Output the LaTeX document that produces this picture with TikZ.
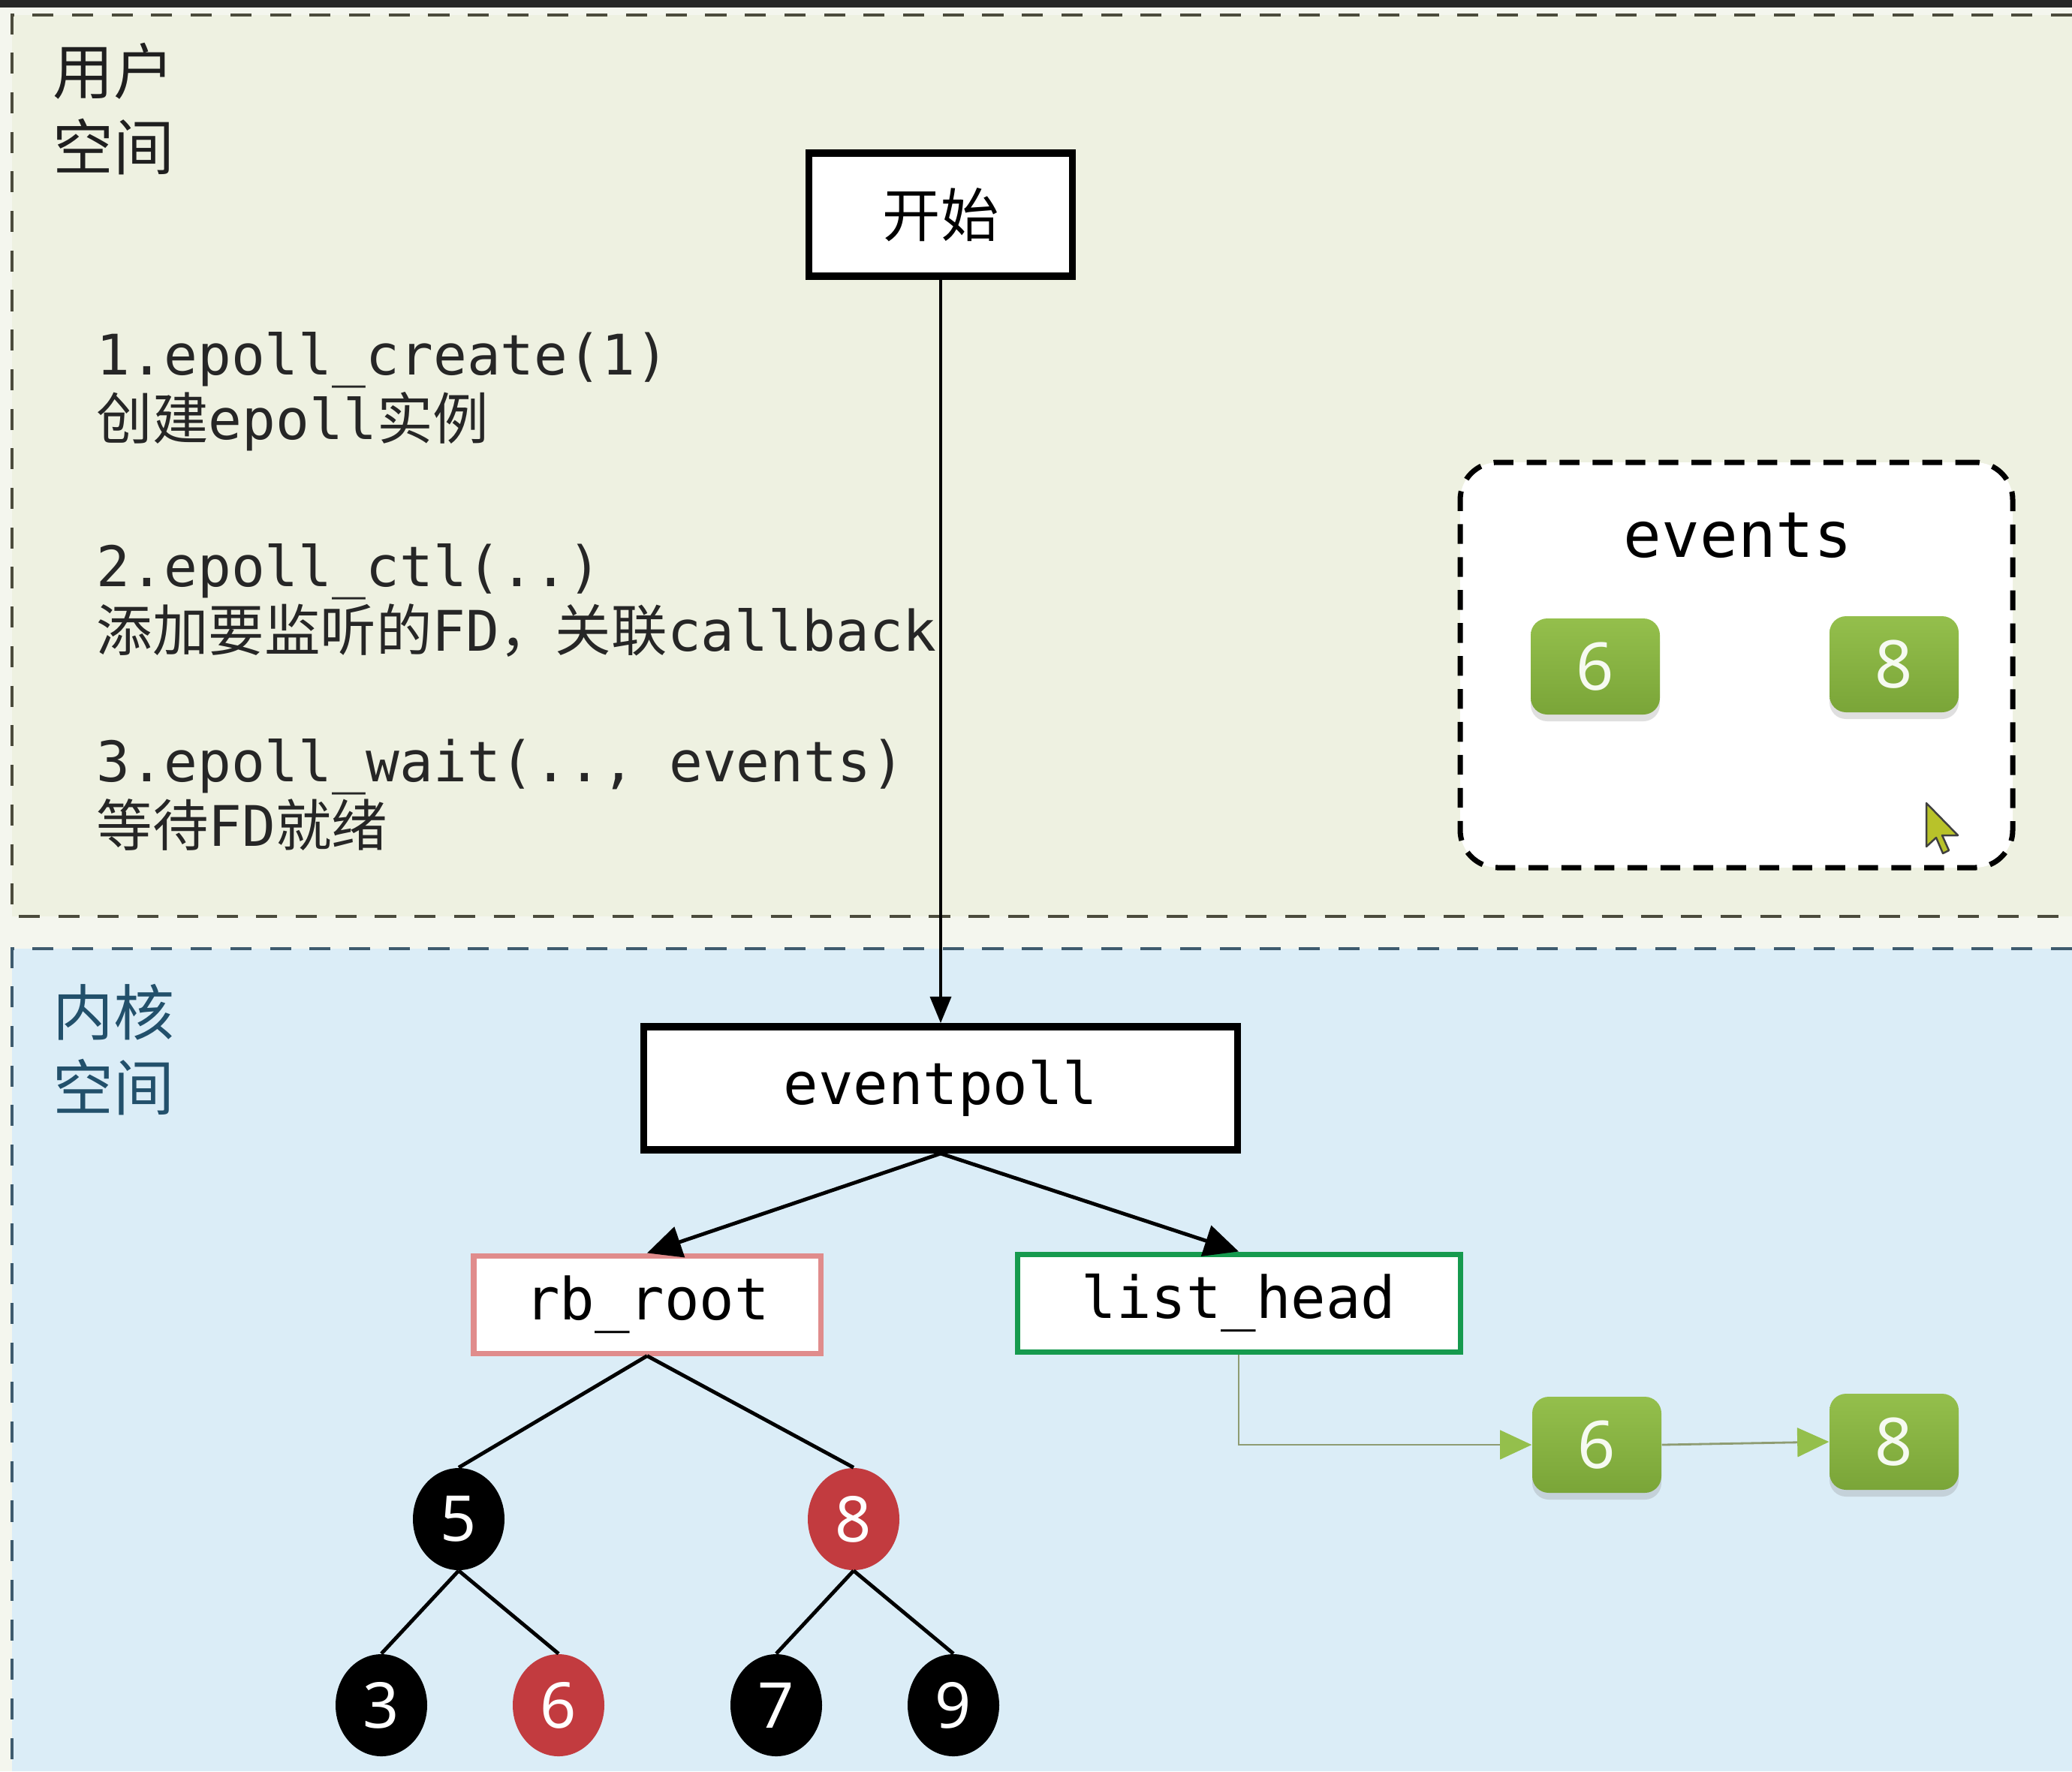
\documentclass[tikz,border=0pt]{standalone}
\usepackage{fontspec}
\setmainfont{DejaVu Sans Mono}
\newfontfamily\cjk{Noto Sans CJK SC}
\newfontfamily\numfont{Noto Sans}
\newcommand\us{\char"5F\relax}
\usetikzlibrary{positioning, arrows.meta, shapes.geometric, shadows, trees}
\definecolor{pagebg}{HTML}{F4F6EE}
\definecolor{userbg}{HTML}{EEF1E1}
\definecolor{kernbg}{HTML}{DBEDF7}
\definecolor{kerntext}{HTML}{22506B}
\definecolor{kerndash}{HTML}{3E5B6E}
\definecolor{userdash}{HTML}{4B4B3C}
\definecolor{rbpink}{HTML}{E08C8C}
\definecolor{listgreen}{HTML}{169A4E}
\definecolor{fdgreen}{HTML}{94BF4C}
\definecolor{fddark}{HTML}{7AA538}
\definecolor{nodered}{HTML}{C23B3F}
\definecolor{linkgray}{HTML}{8E9C72}
\definecolor{cursorfill}{HTML}{B8C22A}

\begin{document}
\begin{tikzpicture}[
  level 1/.style={sibling distance=5.26cm, level distance=2.86cm, every child node/.style={xshift=0.12cm}},
  level 2/.style={sibling distance=2.36cm, level distance=2.48cm, every child node/.style={xshift=0.15cm}},
  parent anchor=south, child anchor=north,
  edge from parent/.style={draw=black, line width=1.4pt},
  bigbox/.style={draw=black, line width=2.8pt, fill=white, minimum height=1.64cm, font=\fontsize{22}{22}\selectfont},
  headbox/.style={line width=2pt, fill=white, minimum height=1.3cm, font=\fontsize{22}{22}\selectfont},
  fdbox/.style={rounded corners=0.22cm, top color=fdgreen, bottom color=fddark, minimum width=1.72cm, minimum height=1.28cm,
    font=\numfont\fontsize{25}{25}\selectfont, text=white!92!fdgreen,
    drop shadow={shadow xshift=0pt, shadow yshift=-0.09cm, opacity=0.25}},
  blacknode/.style={ellipse, draw=none, fill=black, minimum width=1.22cm, minimum height=1.36cm, inner sep=0pt,
    font=\numfont\fontsize{24}{24}\selectfont, text=white},
  rednode/.style={blacknode, fill=nodered},
  steptext/.style={anchor=west, inner sep=0pt, align=left, text=black!85, font=\fontsize{21.2}{24.5}\selectfont},
  spacelabel/.style={anchor=west, inner sep=0pt, align=left, font=\cjk\fontsize{23}{28.5}\selectfont},
  bigarrow/.style={line width=1.4pt, -{Triangle[length=13pt,width=12pt]}},
  linkarrow/.style={linkgray, line width=0.8pt, -{Triangle[length=12pt,width=11pt,color=fdgreen]}}
]
\useasboundingbox (0,0) rectangle (27.6,-23.6);
\fill[pagebg] (0,0) rectangle (27.6,-23.6);
\fill[black!85] (0,0) rectangle (27.6,-0.1);

% user space
\fill[userbg] (0.16,-0.2) rectangle (27.6,-12.21);
\draw[userdash, line width=1.2pt, dash pattern=on 8pt off 7pt] (27.6,-0.2) -- (0.16,-0.2) -- (0.16,-12.21) -- (27.6,-12.21);
\node[spacelabel, text=black!88] (userlbl) at (0.7,-1.45) {用户\\空间};

% kernel space
\fill[kernbg] (0.16,-12.64) rectangle (27.6,-23.6);
\draw[kerndash, line width=1.2pt, dash pattern=on 8pt off 7pt] (27.6,-12.64) -- (0.16,-12.64) -- (0.16,-23.6);
\node[spacelabel, text=kerntext] (kernlbl) at (0.7,-13.99) {内核\\空间};

\node[steptext] (step1) at (1.28,-5.22) {1.epoll\us create(1)\\{\cjk 创建}epoll{\cjk 实例}};
\node[steptext] (step2) at (1.28,-8.0) {2.epoll\us ctl(..)\\{\cjk 添加要监听的}FD{\cjk ，关联}callback};
\node[steptext] (step3) at (1.28,-10.59) {3.epoll\us wait(.., events)\\{\cjk 等待}FD{\cjk 就绪}};

\node[bigbox, minimum width=3.51cm, font=\cjk\fontsize{22}{22}\selectfont] (start) at (12.53,-2.86) {开始};
\node[bigbox, minimum width=7.91cm] (epoll) at (12.53,-14.5) {eventpoll};
\draw[line width=0.9pt, -{Triangle[length=10pt,width=8pt]}] (start) -- (epoll);

% events array
\node[draw=black, line width=2pt, dash pattern=on 7.5pt off 5pt, rounded corners=0.5cm, fill=white,
  minimum width=7.36cm, minimum height=5.4cm] (evbox) at (23.13,-8.86) {};
\node[font=\fontsize{24}{24}\selectfont] (evlabel) at (23.15,-7.13) {events};
\node[fdbox] (e6) at (21.25,-8.88) {6};
\node[fdbox] (e8) at (25.23,-8.85) {8};
\begin{scope}[shift={(25.66,-10.70)}]
\fill[cursorfill, draw=black!75, line width=0.7pt, line join=round] (0,0) -- (0,-0.58) -- (0.13,-0.46)
  -- (0.22,-0.67) -- (0.30,-0.63) -- (0.21,-0.43) -- (0.42,-0.43) -- cycle;
\end{scope}

% rb tree
\node[headbox, draw=rbpink, minimum width=4.62cm] (rbroot) at (8.62,-17.38) {rb\us root}
  child {node[blacknode] (n5) {5}
    child {node[blacknode] (n3) {3}}
    child {node[rednode] (n6) {6}}}
  child {node[rednode] (n8) {8}
    child {node[blacknode] (n7) {7}}
    child {node[blacknode] (n9) {9}}};

% ready list
\node[headbox, draw=listgreen, minimum width=5.9cm] (lhead) at (16.5,-17.36) {list\us head};
\node[fdbox] (l6) at (21.27,-19.25) {6};
\node[fdbox] (l8) at (25.23,-19.21) {8};

\draw[bigarrow] (epoll.south) -- (rbroot.north);
\draw[bigarrow] (epoll.south) -- (lhead.north);
\draw[linkarrow] (lhead.south) |- (l6.west);
\draw[linkarrow] (l6.east) -- (l8.west);
\end{tikzpicture}
\end{document}
